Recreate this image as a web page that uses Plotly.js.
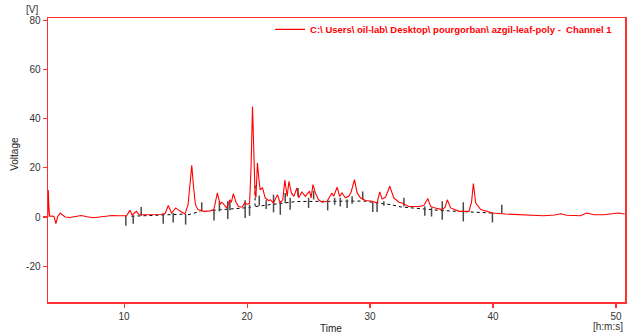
<!DOCTYPE html>
<html>
<head>
<meta charset="utf-8">
<script src="https://cdn.plot.ly/plotly-3.0.1.min.js"></script>
<style>html,body{margin:0;padding:0;background:#fff;}#chart{width:629px;height:334px;}</style>
</head>
<body>
<div id="chart"></div>
<script>
// Chromatogram signal (time in minutes, voltage in V)
const timeMin = [3.80,3.83,3.88,3.95,4.15,4.30,4.45,4.60,4.80,4.95,5.20,5.60,6.00,6.50,7.00,7.50,8.00,8.50,9.00,9.50,10.00,10.20,10.47,10.65,11.00,11.20,11.50,12.00,12.50,13.00,13.35,13.59,13.86,14.20,14.50,14.95,15.20,15.35,15.50,15.65,15.80,16.00,16.20,16.50,17.00,17.30,17.58,17.80,17.95,18.35,18.60,18.72,18.88,19.10,19.30,19.60,19.80,20.00,20.20,20.32,20.44,20.55,20.65,20.72,20.84,20.95,21.06,21.25,21.47,21.74,21.90,22.15,22.47,22.69,22.90,23.07,23.26,23.40,23.60,23.80,24.05,24.20,24.46,24.73,25.08,25.20,25.36,25.55,25.81,26.10,26.50,26.90,27.04,27.32,27.53,27.72,27.99,28.26,28.45,28.73,28.95,29.21,29.62,30.17,30.57,30.79,30.98,31.25,31.60,31.93,32.34,32.60,33.15,33.97,34.37,34.70,34.92,35.30,35.87,36.10,36.28,36.55,37.23,38.04,38.25,38.40,38.59,39.00,39.95,41.04,42.10,43.00,44.10,45.00,45.50,46.00,47.10,47.60,48.20,49.00,49.80,50.20,50.70];
const voltage = [0,11,4,0.3,0.4,0.2,-2.7,0.2,1.6,1.0,0,-0.2,0.2,0.6,0.1,-0.3,0,0.3,0.6,0.5,0.3,0.5,2.7,0.8,2.3,1.0,0.9,1.0,1.1,1.0,1.5,4.7,1.6,3.7,2.5,1.2,5,15,21,12,5,3,2.6,2.3,2.5,3.0,9.8,5.2,6,3.7,7,6,9.5,6,4.3,4.0,5.8,5.2,5.5,20,45,24,9,8,22,16,11,12,7.8,6.7,7,5.7,9.1,5.7,7,15,8.4,14.5,9.8,8.4,11.8,7.8,10.2,8.4,10.5,7.8,13.2,9.8,7,6,6.4,9.8,8.4,12.1,8.4,9.8,7.8,8.4,10,15.2,9.8,7.8,6.7,6.4,5.7,10.2,7.3,8,12.5,7.8,6,5.7,4.3,4.3,4.7,7.5,4.3,3.7,3.0,4,7,3.7,2.3,2.3,6,13.6,5.7,3,1.6,1.2,0.9,0.9,0.5,0.8,1.3,0.7,0.5,1.6,0.9,0.9,1.2,1.6,1.2];

// Integration baseline (dotted), null = gap
const baseTime = [10.6,14.95,null,15.2,16.2,null,17.2,20.3,null,20.65,20.65,null,20.7,24.0,27.0,29.5,31.7,32.5,35.9,37.6,40.0];
const baseVolt = [0.3,1.2,null,0.9,2.3,null,2.7,3.9,null,4.3,14,null,4.3,6.3,6.4,6.5,5.0,4.1,2.6,2.2,1.6];

// Peak start/end markers: time, lower and upper voltage
const markTime = [10.14,10.74,11.39,13.18,13.99,15.0,16.31,17.31,17.75,18.43,18.6,19.84,20.2,20.99,21.55,22.15,22.7,23.1,23.5,24.14,25.0,25.41,26.55,27.12,27.58,28.13,28.54,29.4,30.22,30.57,31.12,32.75,34.45,35.0,35.87,37.58,39.95,40.71];
const markLow  = [-3.55,-2.7,0.53,-2.7,-2.2,-3.1,2.3,-1.4,2.3,-0.8,2.7,-0.4,0.5,4.6,3.3,1.9,0.9,5.7,3.0,8.4,3.7,7.1,2.7,5.0,4.3,3.7,5.4,7.1,2.0,2.0,4.6,4.3,0.5,0.2,-1.1,-1.8,-2.2,1.6];
const markHigh = [0.53,0.65,4.1,1.2,1.6,1.2,6.0,2.6,6.4,6.4,6.4,6.8,5.0,8.7,6.8,9.1,6.4,9.8,7.8,11.8,7.8,10.7,6.4,7.8,7.8,7.1,8.4,10.4,6.0,6.0,6.4,7.8,4.3,3.9,6.4,6.0,1.9,5.0];

const xTicks = [10,20,30,40,50];
const yTicks = [-20,0,20,40,60,80];
const seriesName = 'C:\\ Users\\ oil-lab\\ Desktop\\ pourgorban\\ azgil-leaf-poly -  Channel 1';

const mx = [], my = [];
markTime.forEach((t,i)=>{ mx.push(t,t,null); my.push(markLow[i],markHigh[i],null); });

const traces = [
  {x: baseTime, y: baseVolt, mode:'lines', line:{color:'#000', width:1, dash:'dot'}, showlegend:false, hoverinfo:'skip', connectgaps:false},
  {x: mx, y: my, mode:'lines', line:{color:'#4a4a4a', width:1.5}, showlegend:false, hoverinfo:'skip', connectgaps:false},
  {x: timeMin, y: voltage, mode:'lines', name: seriesName, line:{color:'#ff0000', width:1.1}, showlegend:true}
];

const axisCommon = {
  showline:true, linecolor:'#ff3030', linewidth:1.5, mirror:true,
  ticks:'outside', tickcolor:'#ff3030', ticklen:4, tickwidth:1.2,
  showgrid:false, zeroline:false,
  tickfont:{family:'Liberation Sans, Arial, sans-serif', size:10, color:'#333'}
};

const layout = {
  width:629, height:334,
  margin:{l:48, r:4, t:18, b:32},
  paper_bgcolor:'#fff', plot_bgcolor:'#fff',
  xaxis: Object.assign({}, axisCommon, {range:[3.81,50.73], tickvals:xTicks, ticktext:xTicks.map(String)}),
  yaxis: Object.assign({}, axisCommon, {range:[-34.6,81], tickvals:yTicks, ticktext:yTicks.map(String)}),
  legend:{x:0.988, xanchor:'right', y:0.96, yanchor:'middle', bgcolor:'rgba(0,0,0,0)',
    font:{family:'Liberation Sans, Arial, sans-serif', size:9.5, color:'#ff0000', weight:'bold'}, itemwidth:30},
  annotations:[
    {text:'[V]', xref:'paper', yref:'paper', x:-0.027, y:1.0, xanchor:'center', yanchor:'bottom', yshift:1, showarrow:false,
     font:{family:'Liberation Sans, Arial, sans-serif', size:10, color:'#333'}},
    {text:'Voltage', xref:'paper', yref:'paper', x:-0.058, y:0.52, textangle:-90, showarrow:false, xanchor:'center', yanchor:'middle',
     font:{family:'Liberation Sans, Arial, sans-serif', size:10, color:'#222'}},
    {text:'Time', xref:'paper', yref:'paper', x:0.49, y:0, yanchor:'top', yshift:-19, showarrow:false,
     font:{family:'Liberation Sans, Arial, sans-serif', size:10, color:'#222'}},
    {text:'[h:m:s]', xref:'paper', yref:'paper', x:1.0, xanchor:'right', y:0, yanchor:'top', yshift:-17, showarrow:false,
     font:{family:'Liberation Sans, Arial, sans-serif', size:10, color:'#333'}}
  ]
};

Plotly.newPlot('chart', traces, layout, {staticPlot:true, displayModeBar:false});
</script>
</body>
</html>
